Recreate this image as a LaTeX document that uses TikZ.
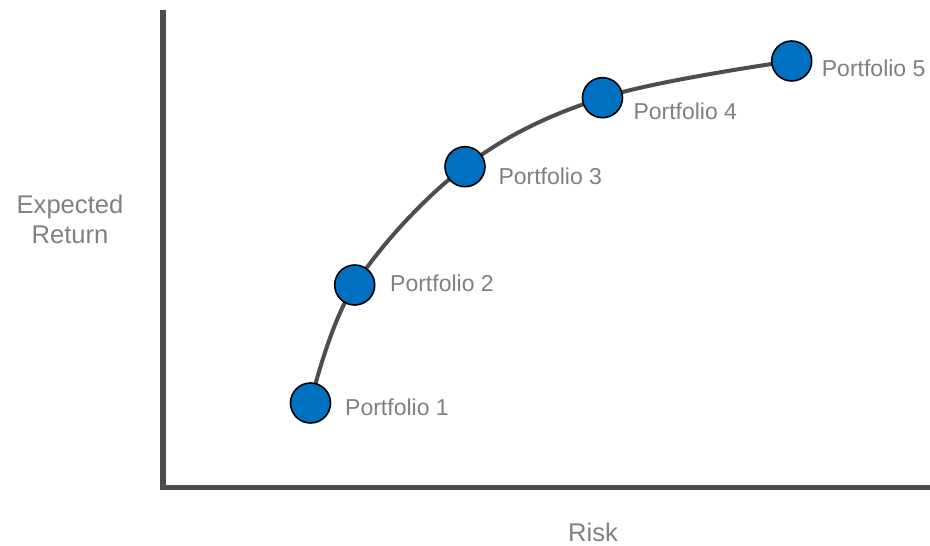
\documentclass[tikz,border=0pt]{standalone}
\usepackage{fontspec}
\setmainfont{Liberation Sans}
\definecolor{axisgray}{HTML}{4D4D4D}
\definecolor{labelgray}{HTML}{808080}
\definecolor{dotblue}{HTML}{0070C0}
\begin{document}
\begin{tikzpicture}[x=1pt,y=-1pt,
  axisline/.style={draw=axisgray, line width=5.5pt},
  frontier/.style={draw=axisgray, line width=4pt},
  dot/.style={circle, draw=black, line width=1.6pt, fill=dotblue, minimum size=40pt, inner sep=0pt},
  plabel/.style={anchor=base west, inner sep=0pt, text=labelgray, font=\fontsize{23}{27}\selectfont},
  alabel/.style={inner sep=0pt, text=labelgray, font=\fontsize{25.6}{30}\selectfont, align=center}]
\useasboundingbox (0,0) rectangle (930,546);
% axes
\coordinate (ytop) at (163,10);
\coordinate (ybot) at (163,490);
\coordinate (xstart) at (160.5,487.5);
\coordinate (xend) at (930,487.5);
\draw[axisline] (ytop) -- (ybot);
\draw[axisline] (xstart) -- (xend);
% frontier curve
\draw[frontier] plot[smooth, tension=0.6] coordinates {(310.5,403) (354.7,285) (465,166.7) (602.5,97.7) (791.7,61)};
% portfolios
\node[dot] (p1) at (310.5,403) {};
\node[dot] (p2) at (354.7,285) {};
\node[dot] (p3) at (465,166.7) {};
\node[dot] (p4) at (602.5,97.7) {};
\node[dot] (p5) at (791.7,61) {};
\node[plabel] (l1) at (345,415.7) {Portfolio 1};
\node[plabel] (l2) at (390,291.7) {Portfolio 2};
\node[plabel] (l3) at (498.3,184.3) {Portfolio 3};
\node[plabel] (l4) at (633.3,119) {Portfolio 4};
\node[plabel] (l5) at (821.7,76.7) {Portfolio 5};
% axis labels
\node[alabel, anchor=base] (er1) at (70,213.3) {Expected};
\node[alabel, anchor=base] (er2) at (70,243.3) {Return};
\node[alabel, anchor=base] (risk) at (593,541.5) {Risk};
\end{tikzpicture}
\end{document}
